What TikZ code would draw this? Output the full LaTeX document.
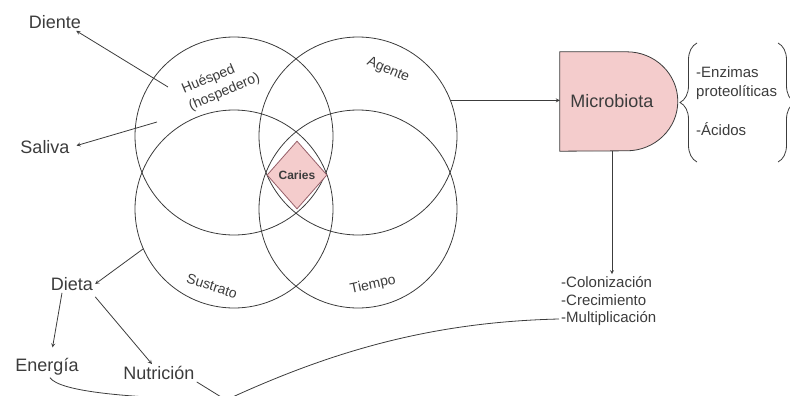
\documentclass[tikz,border=0pt]{standalone}
\usepackage{fontspec}
\setmainfont{Liberation Sans}
\usetikzlibrary{shapes,arrows,positioning,calc,decorations.pathreplacing,backgrounds}
\definecolor{cariespink}{RGB}{244,204,204}
\definecolor{cariesedge}{RGB}{150,95,105}
\definecolor{inkgray}{RGB}{60,60,60}

\begin{document}
\begin{tikzpicture}[x=1pt, y=-1pt,
    factor/.style={circle, draw=inkgray, line width=0.8pt, minimum size=198pt, inner sep=0pt},
    flabel/.style={font=\fontsize{14}{18}\selectfont, text=inkgray, align=left, inner sep=0pt},
    word/.style={font=\fontsize{18}{20}\selectfont, text=inkgray, inner sep=2pt},
    listitem/.style={font=\fontsize{15}{19}\selectfont, text=inkgray, inner sep=2pt, anchor=west, align=left},
    link/.style={->, >=stealth, draw=inkgray, line width=0.8pt},
    wire/.style={draw=inkgray, line width=0.8pt},
    cariesbox/.style={diamond, draw=cariesedge, fill=cariespink, line width=0.8pt, minimum width=60pt, minimum height=68pt, inner sep=0pt},
    bracket/.style={draw=inkgray, line width=0.8pt, decorate, decoration={brace, amplitude=17pt}}
]
    \useasboundingbox (0,0) rectangle (790,396);

    % The four factors
    \node[factor] (huesped) at (234,136) {};
    \node[factor] (agente) at (358,136) {};
    \node[factor] (sustrato) at (234,209) {};
    \node[factor] (tiempo) at (358,209) {};

    \node[flabel, rotate=23] (huespedtxt) at (221,84) {Huésped\\(hospedero)};
    \node[flabel, rotate=-23] (agentetxt) at (388,70) {Agente};
    \node[flabel, rotate=-18] (sustratotxt) at (212,286) {Sustrato};
    \node[flabel, rotate=12] (tiempotxt) at (373,285) {Tiempo};

    % Caries in the middle
    \node[cariesbox] (caries) at (297,175) {};
    \node[font=\bfseries\fontsize{12}{12}\selectfont, text=inkgray] (cariestxt) at (caries) {Caries};

    % Host side
    \node[word] (diente) at (55,22) {Diente};
    \node[word] (saliva) at (45,147) {Saliva};
    \node[word] (dieta) at (72,284) {Dieta};
    \node[word] (energia) at (47,367) {Energía};
    \node[word] (nutricion) at (159,373) {Nutrición};

    \coordinate (hdiente) at (168,87);
    \coordinate (hsaliva) at (157,122);
    \coordinate (sdieta) at (143,249);
    \coordinate (junction) at (226,400);

    \draw[link] (hdiente) -- ([xshift=-7pt]diente.south east);
    \draw[link, shorten >=5pt] (hsaliva) -- (saliva.east);
    \draw[link] (sdieta) -- (dieta.east);
    \draw[link, shorten >=9pt] ([xshift=-10pt]dieta.south) -- ([xshift=4pt]energia.north);
    \draw[link] ([yshift=-4pt]dieta.south east) -- ([xshift=-7pt]nutricion.north);

    % Microbiota
    \node[font=\fontsize{18}{20}\selectfont, text=inkgray, minimum width=104pt, minimum height=99pt, inner sep=0pt] (micro) at (612,101.5) {Microbiota};
    \begin{scope}[on background layer]
        \draw[draw=inkgray, fill=cariespink, line width=0.8pt] (micro.north west) -- ++(67,0)
            arc[start angle=-90, end angle=90, x radius=51, y radius=49.5] -- (micro.south west) -- cycle;
    \end{scope}
    \draw[link] (agente.21) -- (agente.21 -| micro.west);

    \draw[bracket] (697,162) -- (697,43);
    \draw[bracket] (778,43) -- (778,162);
    \node[listitem] (enzimas) at (694,83) {-Enzimas\\proteolíticas};
    \node[listitem] (acidos) at (694,129) {-Ácidos};

    \node[listitem] (colon) at (559,282) {-Colonización};
    \node[listitem] (crec) at (559,300) {-Crecimiento};
    \node[listitem] (multip) at (559,319) {-Multiplicación};
    \draw[link] (micro.south) -- (micro.south |- colon.north);

    % Diet links back to growth
    \draw[wire] ([xshift=3pt]energia.south) .. controls (60,392) and (130,398) .. (junction);
    \draw[wire] (nutricion.south east) -- (junction);
    \draw[wire] (junction) .. controls (330,352) and (430,322) .. (multip.west);
\end{tikzpicture}
\end{document}
